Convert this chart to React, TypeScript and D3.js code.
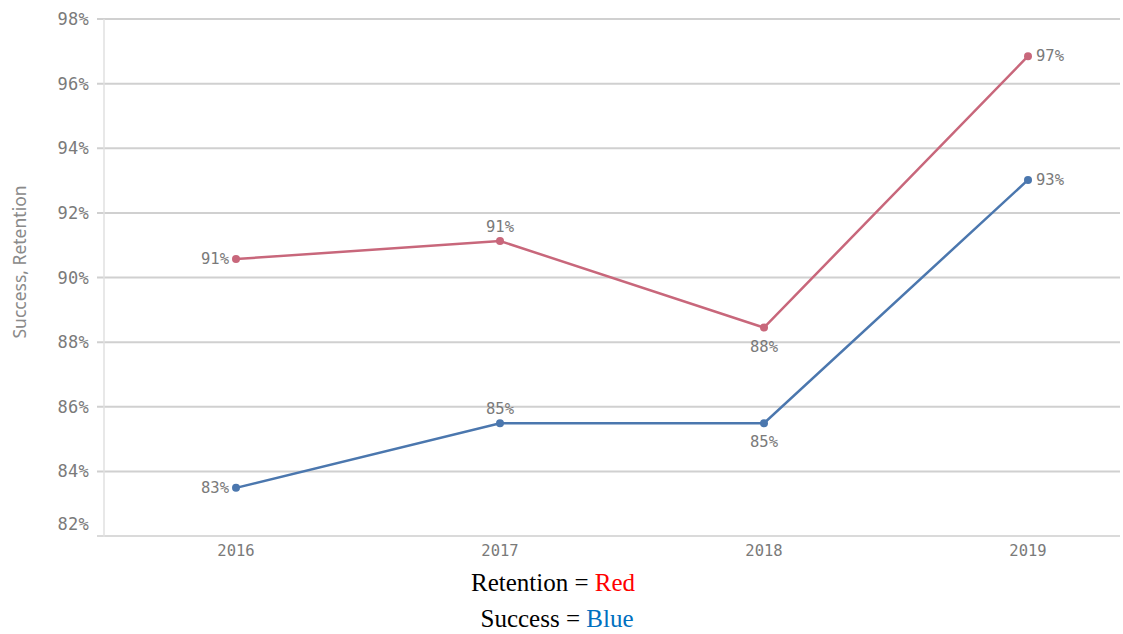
import React from "react";
import * as d3 from "d3";

// Yearly rates (percent)
const years = ["2016", "2017", "2018", "2019"];
const retention = [90.57, 91.13, 88.45, 96.85];
const success = [83.49, 85.49, 85.49, 93.02];
const yTicks = [82, 84, 86, 88, 90, 92, 94, 96, 98];

// label placement per point: l = left, t = top, b = bottom, r = right
const retentionLabelPos = ["l", "t", "b", "r"];
const successLabelPos = ["l", "t", "b", "r"];

const W = 1123;
const H = 634;
const plot = { left: 104, right: 1120, top: 19, bottom: 536 };

const RED = "#c8677b";
const BLUE = "#4b77ae";
const GRID = "#d0d0d0";
const LABEL = "#7a7a7a";
const MONO = "'DejaVu Sans Mono', monospace";

export default function App() {
  const x = d3.scalePoint<string>().domain(years).range([236, 1028]);
  const y = d3.scaleLinear().domain([82, 98]).range([plot.bottom, plot.top]);
  const fmt = (v: number) => `${Math.round(v)}%`;

  const line = d3
    .line<number>()
    .x((_, i) => x(years[i]) as number)
    .y((d) => y(d));

  const series = [
    { values: retention, color: RED, pos: retentionLabelPos },
    { values: success, color: BLUE, pos: successLabelPos },
  ];

  const labelAttrs = (p: string, cx: number, cy: number) => {
    if (p === "l") return { x: cx - 7, y: cy + 5, anchor: "end" };
    if (p === "r") return { x: cx + 8, y: cy + 5, anchor: "start" };
    if (p === "t") return { x: cx, y: cy - 9, anchor: "middle" };
    return { x: cx, y: cy + 24, anchor: "middle" };
  };

  return (
    <svg
      width={W}
      height={H}
      style={{ position: "absolute", left: 0, top: 0, background: "#fff" }}
    >
      {/* grid lines and y tick labels */}
      {yTicks.map((t) => {
        const ty = y(t);
        const isBottom = t === 82;
        return (
          <g key={t}>
            <line
              x1={97}
              x2={plot.right}
              y1={ty}
              y2={ty}
              stroke={isBottom ? "#dadada" : GRID}
              strokeWidth={2}
            />
            <text
              x={89}
              y={Math.min(ty, plot.bottom - 12) + 6}
              textAnchor="end"
              fontFamily={MONO}
              fontSize={17}
              letterSpacing={0.3}
              fill={LABEL}
            >
              {fmt(t)}
            </text>
          </g>
        );
      })}
      {/* vertical axis line */}
      <line
        x1={plot.left}
        x2={plot.left}
        y1={plot.top}
        y2={plot.bottom + 1}
        stroke="#e0e0e0"
        strokeWidth={1.5}
      />
      {/* x tick labels */}
      {years.map((yr) => (
        <text
          key={yr}
          x={x(yr)}
          y={556}
          textAnchor="middle"
          fontFamily={MONO}
          fontSize={15.5}
          fill={LABEL}
        >
          {yr}
        </text>
      ))}
      {/* y axis title */}
      <text
        transform={`translate(26, ${262}) rotate(-90)`}
        textAnchor="middle"
        fontFamily="'Noto Sans', sans-serif"
        fontSize={17.5}
        fill="#8a8a8a"
      >
        Success, Retention
      </text>
      {/* series */}
      {series.map((s, si) => (
        <g key={si}>
          <path
            d={line(s.values) || ""}
            fill="none"
            stroke={s.color}
            strokeWidth={2.5}
          />
          {s.values.map((v, i) => {
            const cx = x(years[i]) as number;
            const cy = y(v);
            const la = labelAttrs(s.pos[i], cx, cy);
            return (
              <g key={i}>
                <circle cx={cx} cy={cy} r={4} fill={s.color} />
                <text
                  x={la.x}
                  y={la.y}
                  textAnchor={la.anchor as any}
                  fontFamily={MONO}
                  fontSize={15.5}
                  fill={LABEL}
                >
                  {fmt(v)}
                </text>
              </g>
            );
          })}
        </g>
      ))}
      {/* legend */}
      <text
        x={553}
        y={591}
        textAnchor="middle"
        fontFamily="'Liberation Serif', serif"
        fontSize={25}
        fill="#000"
      >
        Retention = <tspan fill="#ff0000">Red</tspan>
      </text>
      <text
        x={557}
        y={627}
        textAnchor="middle"
        fontFamily="'Liberation Serif', serif"
        fontSize={25}
        fill="#000"
      >
        Success = <tspan fill="#0070c0">Blue</tspan>
      </text>
    </svg>
  );
}
